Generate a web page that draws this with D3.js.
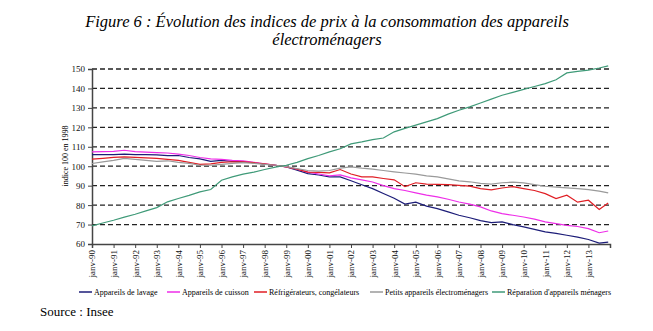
<!DOCTYPE html>
<html>
<head>
<meta charset="utf-8">
<script src="https://cdn.jsdelivr.net/npm/d3@7"></script>
<style>
  body { margin: 0; background: #fff; }
  svg { display: block; font-family: "Liberation Serif", "Times New Roman", serif; }
</style>
</head>
<body>
<svg id="chart" width="653" height="331"></svg>
<script>
// months since janv-90, one reading every six months
let months = d3.range(0, 288, 6).concat([287]);

let lavage = [106.0, 106.0, 106.0, 106.2, 106.0, 106.0, 105.8, 105.5, 105.5, 104.5,
  103.8, 102.5, 103.0, 102.5, 102.2, 101.8, 101.0, 100.5, 99.7, 98.0,
  96.2, 95.5, 94.5, 94.5, 92.5, 90.5, 88.5, 86.0, 83.5, 80.5,
  81.5, 79.5, 78.2, 76.5, 74.8, 73.5, 72.0, 71.0, 71.4, 70.0,
  68.8, 67.5, 66.2, 65.5, 64.5, 63.5, 62.3, 60.5, 61.0];
let cuisson = [107.4, 107.5, 107.6, 108.2, 107.5, 107.3, 107.0, 106.8, 106.2, 105.5,
  104.5, 103.8, 103.5, 103.0, 102.7, 102.0, 101.2, 100.5, 99.7, 98.5,
  97.0, 96.0, 95.0, 95.5, 94.0, 93.0, 91.9, 90.0, 88.5, 87.5,
  86.3, 85.1, 84.2, 83.0, 81.6, 80.5, 79.1, 77.0, 75.6, 74.8,
  73.9, 72.8, 71.4, 70.5, 69.6, 69.0, 67.9, 65.8, 66.7];
let refrigerateurs = [103.6, 104.0, 104.5, 104.8, 104.5, 104.3, 104.0, 103.5, 103.0, 102.0,
  101.0, 101.2, 102.0, 102.3, 102.2, 101.8, 101.2, 100.5, 99.7, 98.5,
  97.0, 96.8, 96.6, 98.3, 96.0, 94.5, 94.5, 93.7, 93.0, 89.5,
  91.5, 90.8, 90.7, 90.5, 90.2, 89.8, 88.5, 87.8, 88.8, 89.5,
  88.5, 87.5, 85.9, 83.4, 85.1, 81.5, 82.5, 77.8, 81.1];
let petits = [101.4, 102.2, 103.0, 104.0, 103.5, 103.0, 102.5, 102.8, 102.0, 101.5,
  100.5, 100.5, 101.0, 101.5, 101.8, 101.5, 101.0, 100.5, 99.8, 98.8,
  97.8, 97.5, 97.8, 99.0, 99.7, 99.0, 98.5, 97.8, 97.1, 96.5,
  95.9, 95.0, 94.5, 93.5, 92.5, 92.0, 91.2, 90.8, 91.5, 91.8,
  91.4, 90.5, 89.7, 89.3, 88.9, 88.5, 88.0, 87.2, 86.3];
let reparation = [69.3, 70.8, 72.2, 73.8, 75.3, 77.0, 78.7, 81.7, 83.4, 85.0,
  86.8, 88.0, 92.8, 94.5, 95.9, 97.0, 98.3, 99.5, 100.5, 102.0,
  103.9, 105.5, 107.4, 109.0, 111.5, 112.5, 113.7, 114.5, 117.7, 119.5,
  121.1, 122.8, 124.5, 126.8, 128.8, 130.5, 132.5, 134.5, 136.5, 138.0,
  139.5, 141.0, 142.5, 144.5, 148.0, 148.8, 149.4, 150.5, 151.6];

let seriesNames = ["Appareils de lavage", "Appareils de cuisson", "Réfrigérateurs, congélateurs",
  "Petits appareils électroménagers", "Réparation d'appareils ménagers"];
let seriesValues = [lavage, cuisson, refrigerateurs, petits, reparation];
let seriesColors = ["#1c1c78", "#ee2ee8", "#e01e24", "#9a9a9a", "#3f9a78"];

let yTicks = [60, 70, 80, 90, 100, 110, 120, 130, 140, 150];
let yearLabels = d3.range(1990, 2014).map(y => "janv-" + String(y % 100).padStart(2, "0"));

let svg = d3.select("#chart");

let x = d3.scaleLinear().domain([0, 288]).range([92, 610]);
let y = d3.scaleLinear().domain([60, 150]).range([244, 69]);

// title
svg.append("text")
  .attr("x", 327).attr("y", 27)
  .attr("text-anchor", "middle")
  .style("font-style", "italic").style("font-size", "16.5px")
  .text("Figure 6 : Évolution des indices de prix à la consommation des appareils");
svg.append("text")
  .attr("x", 327).attr("y", 45)
  .attr("text-anchor", "middle")
  .style("font-style", "italic").style("font-size", "16.5px")
  .text("électroménagers");

// gridlines
svg.append("g")
  .selectAll("line")
  .data(yTicks.filter(d => d > 60))
  .enter()
  .append("line")
  .attr("x1", x(0)).attr("x2", x(288))
  .attr("y1", d => y(d)).attr("y2", d => y(d))
  .style("stroke", "#222")
  .style("stroke-width", 1.3)
  .style("stroke-dasharray", "5,3");

// y axis
let yAxis = svg.append("g")
  .attr("transform", "translate(" + x(0) + ",0)")
  .call(d3.axisLeft(y).tickValues(yTicks).tickSize(4).tickPadding(3));
yAxis.select(".domain").style("stroke", "#444").style("stroke-width", 1.5);
yAxis.selectAll(".tick line").style("stroke", "#444");
yAxis.selectAll("text").style("font-family", "Liberation Serif").style("font-size", "9px").style("fill", "#111");

// x axis
let xAxis = svg.append("g")
  .attr("transform", "translate(0," + y(60) + ")")
  .call(d3.axisBottom(x)
    .tickValues(d3.range(0, 289, 12))
    .tickSize(4)
    .tickFormat(d => d / 12 < yearLabels.length ? yearLabels[d / 12] : ""));
xAxis.select(".domain").style("stroke", "#444").style("stroke-width", 1.5);
xAxis.selectAll(".tick line").style("stroke", "#444");
xAxis.selectAll("text")
  .style("font-family", "Liberation Serif").style("font-size", "9px").style("fill", "#111")
  .attr("text-anchor", "end")
  .attr("transform", "rotate(-90)")
  .attr("x", -6).attr("y", 0).attr("dy", "0.32em");

// y axis title
svg.append("text")
  .attr("transform", "translate(68,156) rotate(-90)")
  .attr("text-anchor", "middle")
  .style("font-size", "8px")
  .text("indice 100 en 1998");

// lines
let line = d3.line()
  .x((d, i) => x(months[i]))
  .y(d => y(d));

svg.append("g")
  .selectAll("path")
  .data(seriesValues)
  .enter()
  .append("path")
  .attr("d", d => line(d))
  .style("fill", "none")
  .style("stroke", (d, i) => seriesColors[i])
  .style("stroke-width", 1.2);

// legend
let legendX = [79, 167, 254, 370, 492];
let legend = svg.append("g")
  .selectAll("g")
  .data(seriesNames)
  .enter()
  .append("g")
  .attr("transform", (d, i) => "translate(" + legendX[i] + ",292)");
legend.append("line")
  .attr("x1", 0).attr("x2", 13)
  .style("stroke", (d, i) => seriesColors[i])
  .style("stroke-width", 1.5);
legend.append("text")
  .attr("x", 15).attr("dy", "0.32em")
  .style("font-size", "8px")
  .text(d => d);

// source
svg.append("text")
  .attr("x", 40).attr("y", 316)
  .style("font-size", "13px")
  .text("Source : Insee");
</script>
</body>
</html>
